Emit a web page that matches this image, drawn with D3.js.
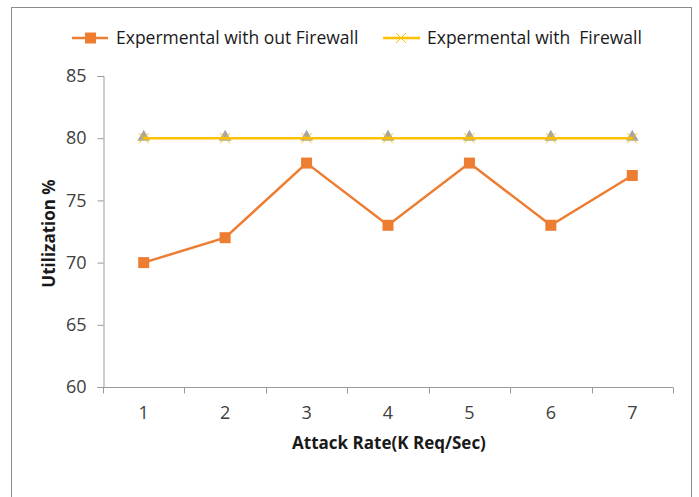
<!DOCTYPE html>
<html>
<head>
<meta charset="utf-8">
<script src="https://cdn.jsdelivr.net/npm/d3@7"></script>
<style>
  html, body { margin: 0; padding: 0; background: #fff; }
  svg { display: block; font-family: "Open Sans", "Liberation Sans", sans-serif; }
</style>
</head>
<body>
<svg id="chart" width="699" height="497"></svg>
<script>
// Attack rate categories and measured utilization (%) per series
const categories = ["1", "2", "3", "4", "5", "6", "7"];
const withoutFirewall = [70, 72, 78, 73, 78, 73, 77];
const withFirewall = [80, 80, 80, 80, 80, 80, 80];
const yTicks = [60, 65, 70, 75, 80, 85];
const seriesNames = ["Expermental with out Firewall", "Expermental with  Firewall"];

const svg = d3.select("#chart");
const W = 699, H = 497;
const plot = { left: 103, right: 673, top: 76, bottom: 387 };

// outer chart frame
svg.append("rect")
  .attr("x", 11.5).attr("y", 7.5)
  .attr("width", 680).attr("height", H)
  .attr("fill", "#fff").attr("stroke", "#8c8c8c").attr("stroke-width", 1);

const x = d3.scaleBand().domain(categories).range([plot.left, plot.right]);
const y = d3.scaleLinear().domain([60, 85]).range([plot.bottom, plot.top]);

// y axis
const yAxis = svg.append("g")
  .attr("transform", `translate(${plot.left + 0.5},0)`)
  .call(d3.axisLeft(y).tickValues(yTicks).tickSize(6).tickPadding(11).tickFormat(d3.format("d")));
yAxis.select(".domain").attr("stroke", "#9a9a9a");
yAxis.selectAll(".tick line").attr("stroke", "#9a9a9a");
yAxis.selectAll(".tick text").attr("font-size", 18).attr("fill", "#404040")
  .attr("font-family", "Open Sans, sans-serif");

// x axis: ticks at category boundaries, labels centered in bands
const xg = svg.append("g").attr("transform", `translate(0,${plot.bottom + 0.5})`);
xg.append("line").attr("x1", plot.left).attr("x2", plot.right)
  .attr("stroke", "#9a9a9a");
const bounds = categories.map(c => x(c)).concat([plot.right]);
xg.selectAll("line.tk").data(bounds).join("line").attr("class", "tk")
  .attr("x1", d => Math.round(d) + 0.5).attr("x2", d => Math.round(d) + 0.5)
  .attr("y1", 0).attr("y2", 6).attr("stroke", "#9a9a9a");
xg.selectAll("text").data(categories).join("text")
  .attr("x", d => x(d) + x.bandwidth() / 2)
  .attr("y", 31)
  .attr("text-anchor", "middle")
  .attr("font-size", 18).attr("fill", "#404040")
  .text(d => d);

// axis titles
svg.append("text")
  .attr("x", (plot.left + plot.right) / 2 + 1).attr("y", 449)
  .attr("text-anchor", "middle").attr("font-size", 17).attr("font-weight", "bold")
  .attr("fill", "#1a1a1a")
  .text("Attack Rate(K Req/Sec)");
svg.append("text")
  .attr("transform", `translate(55,${(plot.top + plot.bottom) / 2 + 2}) rotate(-90)`)
  .attr("text-anchor", "middle").attr("font-size", 17).attr("font-weight", "bold")
  .attr("fill", "#1a1a1a")
  .text("Utilization %");

const cx = (d, i) => x(categories[i]) + x.bandwidth() / 2;
const line = d3.line().x((d, i) => cx(d, i)).y(d => y(d));

const orange = "#ED7D31", yellow = "#FFC000", grey = "#A5A5A5";

// series without firewall
svg.append("path").datum(withoutFirewall)
  .attr("d", line).attr("fill", "none").attr("stroke", orange).attr("stroke-width", 2.5);
svg.selectAll("rect.sq").data(withoutFirewall).join("rect").attr("class", "sq")
  .attr("x", (d, i) => cx(d, i) - 5.5).attr("y", d => y(d) - 5.5)
  .attr("width", 11).attr("height", 11).attr("fill", orange);

// series with firewall: grey triangle, line, yellow cross
const tri = d3.symbol().type(d3.symbolTriangle).size(70);
svg.selectAll("path.tri").data(withFirewall).join("path").attr("class", "tri")
  .attr("d", tri)
  .attr("transform", (d, i) => `translate(${cx(d, i)},${y(d) - 1})`)
  .attr("fill", grey);
svg.append("path").datum(withFirewall)
  .attr("d", line).attr("fill", "none").attr("stroke", yellow).attr("stroke-width", 2.5);
const cross = svg.selectAll("g.cr").data(withFirewall).join("g").attr("class", "cr")
  .attr("transform", (d, i) => `translate(${cx(d, i)},${y(d)})`);
cross.append("path").attr("d", "M-5,-5L5,5M-5,5L5,-5")
  .attr("stroke", yellow).attr("stroke-width", 1).attr("fill", "none");

// legend
const lg = svg.append("g");
lg.append("line").attr("x1", 72).attr("x2", 108).attr("y1", 38).attr("y2", 38)
  .attr("stroke", orange).attr("stroke-width", 2.5);
lg.append("rect").attr("x", 85).attr("y", 32.5).attr("width", 11).attr("height", 11).attr("fill", orange);
lg.append("text").attr("x", 116).attr("y", 44).attr("font-size", 17.5).attr("fill", "#1a1a1a")
  .text(seriesNames[0]);
lg.append("line").attr("x1", 383).attr("x2", 420).attr("y1", 38).attr("y2", 38)
  .attr("stroke", yellow).attr("stroke-width", 2.5);
lg.append("path").attr("d", "M396,33L406,43M396,43L406,33")
  .attr("stroke", yellow).attr("stroke-width", 1).attr("fill", "none");
lg.append("text").attr("x", 427).attr("y", 44).attr("font-size", 17.5).attr("fill", "#1a1a1a")
  .attr("xml:space", "preserve")
  .text(seriesNames[1]);
</script>
</body>
</html>
